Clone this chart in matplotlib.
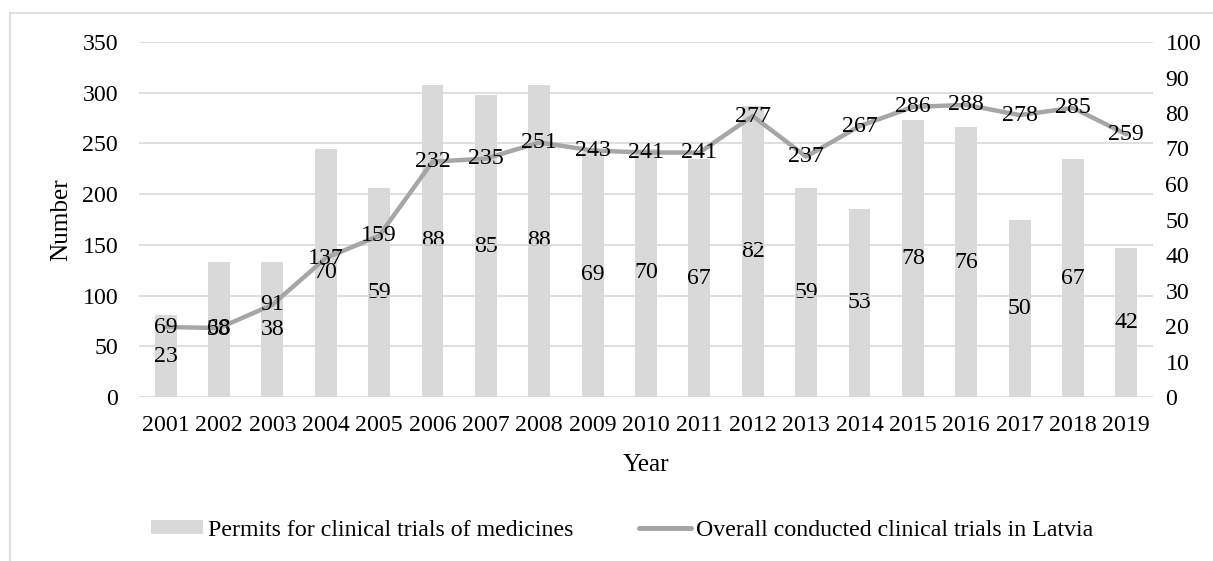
import matplotlib
matplotlib.use("Agg")
import matplotlib.pyplot as plt
from matplotlib.lines import Line2D
from matplotlib.patches import Patch
import numpy as np

years = ["2001", "2002", "2003", "2004", "2005", "2006", "2007", "2008", "2009", "2010",
         "2011", "2012", "2013", "2014", "2015", "2016", "2017", "2018", "2019"]
permits = [23, 38, 38, 70, 59, 88, 85, 88, 69, 70, 67, 82, 59, 53, 78, 76, 50, 67, 42]
overall = [69, 68, 91, 137, 159, 232, 235, 251, 243, 241, 241, 277, 237, 267, 286, 288, 278, 285, 259]

bar_label = "Permits for clinical trials of medicines"
line_label = "Overall conducted clinical trials in Latvia"

plt.rcParams["font.family"] = ["Liberation Serif", "DejaVu Serif"]
FS = 17.2

fig = plt.figure(figsize=(12.13, 5.61), dpi=100)
W, H = 1213, 561
L, R, T, B = 139, 1153, 42, 397
ax = fig.add_axes([L / W, 1 - B / H, (R - L) / W, (B - T) / H])
ax2 = ax.twinx()

x = np.arange(len(years))

# bars on the secondary (right) axis
ax2.bar(x, permits, width=0.41, color="#d9d9d9", zorder=1)
ax2.set_ylim(0, 100)
ax2.set_yticks(np.arange(0, 101, 10))

# line on the primary (left) axis, drawn above the bars
ax.set_zorder(ax2.get_zorder() + 1)
ax.patch.set_visible(False)
ax.plot(x, overall, color="#a6a6a6", lw=3.2, solid_capstyle="round", zorder=3)
ax.set_ylim(0, 350)
ax.set_yticks(np.arange(0, 351, 50))
ax.set_xlim(-0.5, len(years) - 0.5)
ax.set_xticks(x)
ax.set_xticklabels(years)
ax.grid(axis="y", color="#d9d9d9", lw=1.2, zorder=0)
ax.set_axisbelow(True)

for a in (ax, ax2):
    for s in a.spines.values():
        s.set_visible(False)
    a.tick_params(length=0, labelsize=FS, colors="black")
ax.tick_params(axis="y", pad=15)
ax2.tick_params(axis="y", pad=9)
ax.tick_params(axis="x", pad=13)

# value labels: bars at their mid-height, line at its points
for xi, v in zip(x, permits):
    ax2.text(xi, v / 2, str(v), ha="center", va="center", fontsize=FS, zorder=5)
for xi, v in zip(x, overall):
    ax.text(xi, v, str(v), ha="center", va="center", fontsize=FS, zorder=5)

ax.set_ylabel("Number", fontsize=FS + 1, labelpad=7)
ax.set_xlabel("Year", fontsize=FS + 1, labelpad=13)

handles = [Patch(facecolor="#d9d9d9", edgecolor="none"),
           Line2D([0], [0], color="#a6a6a6", lw=3.6, solid_capstyle="round")]
fig.legend(handles, [bar_label, line_label], loc="center", bbox_to_anchor=(622 / W, 1 - 530 / H),
           ncol=2, frameon=False, fontsize=FS, handlelength=2.2, handleheight=0.5,
           handletextpad=0.2, columnspacing=2.75)

# chart frame
fig.add_artist(Line2D([10 / W, 10 / W], [0, 1 - 13 / H], color="#d9d9d9", lw=1.2,
                      transform=fig.transFigure))
fig.add_artist(Line2D([10 / W, 1], [1 - 13 / H, 1 - 13 / H], color="#d9d9d9", lw=1.2,
                      transform=fig.transFigure))

fig.savefig("out.png", dpi=100)
